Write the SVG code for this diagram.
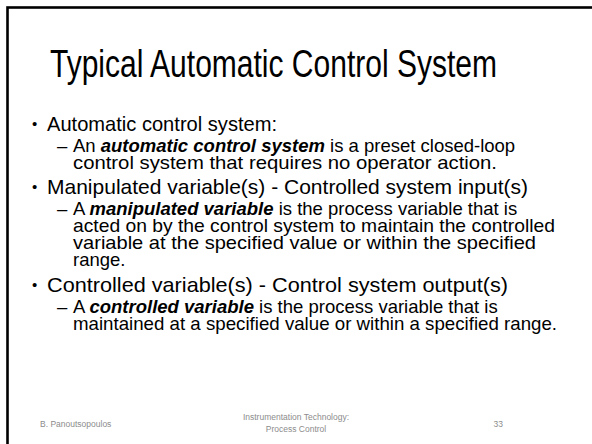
<svg xmlns="http://www.w3.org/2000/svg" width="592" height="444" viewBox="0 0 592 444">
  <style>
    text { font-family: "Liberation Sans", Arial, sans-serif; fill: #000; }
    .title { font-size: 38px; }
    .l1 { font-size: 21px; }
    .l2 { font-size: 18.5px; }
    .bul { font-size: 15px; }
    .em { font-weight: bold; font-style: italic; }
    .foot { font-size: 8.5px; fill: #8c8c8c; }
  </style>
  <rect x="0" y="0" width="592" height="444" fill="#fff"/>
  <!-- slide frame (runs off the right and bottom edges) -->
  <rect x="7.5" y="7.5" width="600" height="450" fill="none" stroke="#000" stroke-width="2.6"/>

  <g id="title">
    <text class="title" x="50" y="77" textLength="447" lengthAdjust="spacingAndGlyphs">Typical Automatic Control System</text>
  </g>

  <g id="body">
    <text class="bul" x="32" y="129">•</text>
    <text class="l1" x="47" y="131" textLength="230" lengthAdjust="spacingAndGlyphs">Automatic control system:</text>
    <text class="l2" x="57" y="152">–</text>
    <text class="l2" x="73" y="152">An <tspan class="em">automatic control system</tspan> is a preset closed-loop</text>
    <text class="l2" x="73" y="169" textLength="424" lengthAdjust="spacingAndGlyphs">control system that requires no operator action.</text>

    <text class="bul" x="32" y="192">•</text>
    <text class="l1" x="47" y="194" textLength="481" lengthAdjust="spacingAndGlyphs">Manipulated variable(s) - Controlled system input(s)</text>
    <text class="l2" x="57" y="215">–</text>
    <text class="l2" x="73" y="215">A <tspan class="em">manipulated variable</tspan> is the process variable that is</text>
    <text class="l2" x="73" y="232" textLength="482" lengthAdjust="spacingAndGlyphs">acted on by the control system to maintain the controlled</text>
    <text class="l2" x="73" y="249" textLength="463" lengthAdjust="spacingAndGlyphs">variable at the specified value or within the specified</text>
    <text class="l2" x="73" y="266">range.</text>

    <text class="bul" x="32" y="290">•</text>
    <text class="l1" x="47" y="292" textLength="461" lengthAdjust="spacingAndGlyphs">Controlled variable(s) - Control system output(s)</text>
    <text class="l2" x="57" y="313">–</text>
    <text class="l2" x="73" y="313">A <tspan class="em">controlled variable</tspan> is the process variable that is</text>
    <text class="l2" x="73" y="330" textLength="484" lengthAdjust="spacingAndGlyphs">maintained at a specified value or within a specified range.</text>
  </g>

  <g id="footer">
    <text class="foot" x="40" y="427">B. Panoutsopoulos</text>
    <text class="foot" x="296" y="420" text-anchor="middle">Instrumentation Technology:</text>
    <text class="foot" x="296" y="432" text-anchor="middle">Process Control</text>
    <text class="foot" x="503" y="427" text-anchor="end">33</text>
  </g>
</svg>
